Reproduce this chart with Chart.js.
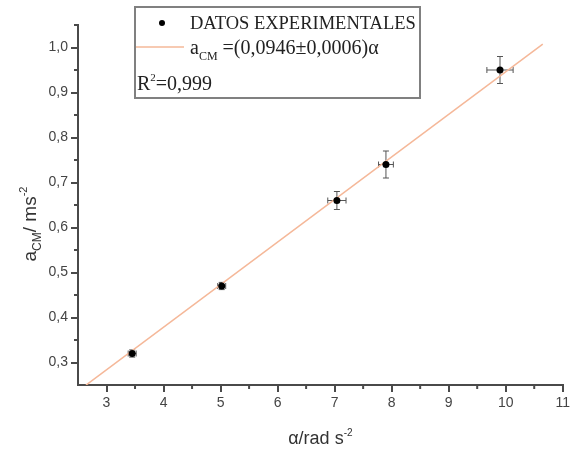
<!DOCTYPE html>
<html lang="es">
<head>
<meta charset="UTF-8">
<title>Aceleración del centro de masas frente a aceleración angular</title>
<style>
  html, body { margin: 0; padding: 0; background: #fff; }
  #wrap { width: 573px; height: 450px; }
</style>
</head>
<body>
<div id="wrap"><canvas id="grafico" width="573" height="450"></canvas></div>
<script src="https://cdn.jsdelivr.net/npm/chart.js"></script>
<script>
// Datos experimentales: aceleración angular (rad/s²) y aceleración del CM (m/s²)
const alpha    = [3.45, 5.02, 7.04, 7.90, 9.90];
const aCM      = [0.32, 0.47, 0.66, 0.74, 0.95];
const alphaErr = [0.07, 0.07, 0.16, 0.13, 0.23];
const aCMErr   = [0.008, 0.008, 0.02, 0.03, 0.03];

// Recta de ajuste a = m·alpha
const pendiente = 0.0946;
const rangoAjuste = [2.64, 10.65];

// Marcas de los ejes
const xTicks = [3, 4, 5, 6, 7, 8, 9, 10, 11];
const yTicks = [0.3, 0.4, 0.5, 0.6, 0.7, 0.8, 0.9, 1.0];
const xMinor = [3.5, 4.5, 5.5, 6.5, 7.5, 8.5, 9.5, 10.5];
const yMinor = [0.35, 0.45, 0.55, 0.65, 0.75, 0.85, 0.95, 1.05];

const EJE = '#4a4a4a';
const SANS = '"Liberation Sans", Arial, sans-serif';
const SERIF = '"Liberation Serif", "Times New Roman", serif';

// texto con partes en sub/superíndice: [texto, tamaño, desplazamiento vertical, fuente]
function textoCompuesto(ctx, partes, x, y, centrado) {
  let ancho = 0;
  partes.forEach(p => { ctx.font = p[1] + 'px ' + p[3]; ancho += ctx.measureText(p[0]).width; });
  let cx = centrado ? x - ancho / 2 : x;
  partes.forEach(p => {
    ctx.font = p[1] + 'px ' + p[3];
    ctx.fillText(p[0], cx, y + p[2]);
    cx += ctx.measureText(p[0]).width;
  });
}

const decorado = {
  id: 'decorado',
  beforeDatasetsDraw(chart) {
    const ctx = chart.ctx, sx = chart.scales.x, sy = chart.scales.y;
    ctx.save();
    ctx.strokeStyle = '#555';
    ctx.lineWidth = 1;
    alpha.forEach((v, i) => {
      const px = sx.getPixelForValue(v), py = sy.getPixelForValue(aCM[i]);
      const x0 = sx.getPixelForValue(v - alphaErr[i]), x1 = sx.getPixelForValue(v + alphaErr[i]);
      const y0 = sy.getPixelForValue(aCM[i] - aCMErr[i]), y1 = sy.getPixelForValue(aCM[i] + aCMErr[i]);
      ctx.beginPath();
      ctx.moveTo(x0, py); ctx.lineTo(x1, py);
      ctx.moveTo(px, y0); ctx.lineTo(px, y1);
      ctx.moveTo(x0, py - 3); ctx.lineTo(x0, py + 3);
      ctx.moveTo(x1, py - 3); ctx.lineTo(x1, py + 3);
      ctx.moveTo(px - 3, y0); ctx.lineTo(px + 3, y0);
      ctx.moveTo(px - 3, y1); ctx.lineTo(px + 3, y1);
      ctx.stroke();
    });
    ctx.restore();
  },
  afterDraw(chart) {
    const ctx = chart.ctx, sx = chart.scales.x, sy = chart.scales.y;
    const area = chart.chartArea;
    ctx.save();

    // marcas secundarias
    ctx.strokeStyle = EJE;
    ctx.lineWidth = 2;
    ctx.beginPath();
    xMinor.forEach(v => {
      const px = sx.getPixelForValue(v);
      ctx.moveTo(px, area.bottom); ctx.lineTo(px, area.bottom + 4);
    });
    yMinor.forEach(v => {
      const py = sy.getPixelForValue(v);
      ctx.moveTo(area.left, py); ctx.lineTo(area.left - 4, py);
    });
    ctx.stroke();

    // títulos de los ejes
    ctx.fillStyle = '#333';
    ctx.textBaseline = 'alphabetic';
    textoCompuesto(ctx, [
      ['α/rad s', 18, 0, SANS],
      ['-2', 10, -8, SANS]
    ], (area.left + area.right) / 2, 444, true);

    ctx.save();
    ctx.translate(36, 224);
    ctx.rotate(-Math.PI / 2);
    textoCompuesto(ctx, [
      ['a', 19, 0, SANS],
      ['CM', 12, 5, SANS],
      ['/ ms', 19, 0, SANS],
      ['-2', 11, -9, SANS]
    ], 0, 0, true);
    ctx.restore();

    // leyenda
    ctx.strokeStyle = '#808080';
    ctx.lineWidth = 2;
    ctx.strokeRect(135, 7, 285, 91);

    ctx.fillStyle = '#000';
    ctx.beginPath();
    ctx.arc(162, 23, 3, 0, Math.PI * 2);
    ctx.fill();

    ctx.strokeStyle = '#f5b899';
    ctx.lineWidth = 1.5;
    ctx.beginPath();
    ctx.moveTo(136, 47); ctx.lineTo(184, 47);
    ctx.stroke();

    ctx.fillStyle = '#222';
    textoCompuesto(ctx, [['DATOS EXPERIMENTALES', 18.5, 0, SERIF]], 190, 29, false);
    textoCompuesto(ctx, [
      ['a', 20, 0, SERIF],
      ['CM', 12, 6, SERIF],
      [' =(0,0946±0,0006)α', 20, 0, SERIF]
    ], 190, 54, false);
    textoCompuesto(ctx, [
      ['R', 20, 0, SERIF],
      ['2', 11, -9, SERIF],
      ['=0,999', 20, 0, SERIF]
    ], 137, 90, false);

    ctx.restore();
  }
};

new Chart(document.getElementById('grafico'), {
  type: 'scatter',
  data: {
    datasets: [
      {
        label: 'DATOS EXPERIMENTALES',
        data: alpha.map((v, i) => ({ x: v, y: aCM[i] })),
        pointRadius: 3.5,
        pointBackgroundColor: '#000',
        pointBorderColor: '#000',
        pointBorderWidth: 0
      },
      {
        label: 'ajuste',
        data: rangoAjuste.map(v => ({ x: v, y: pendiente * v })),
        showLine: true,
        borderColor: '#f5b899',
        borderWidth: 1.5,
        pointRadius: 0
      }
    ]
  },
  options: {
    responsive: false,
    animation: false,
    layout: { padding: { top: 25, right: 6, left: 0, bottom: 0 } },
    plugins: { legend: { display: false }, tooltip: { enabled: false } },
    scales: {
      x: {
        type: 'linear',
        min: 2.5,
        max: 11,
        afterBuildTicks: s => { s.ticks = xTicks.map(v => ({ value: v })); },
        afterFit: s => { s.height = 65; },
        grid: { drawOnChartArea: false, tickLength: 7, color: EJE, lineWidth: 2 },
        border: { color: EJE, width: 2 },
        ticks: {
          padding: 3,
          color: '#444',
          font: { family: SANS, size: 14 },
          callback: v => String(v)
        }
      },
      y: {
        type: 'linear',
        min: 0.25,
        max: 1.05,
        afterBuildTicks: s => { s.ticks = yTicks.map(v => ({ value: v })); },
        afterFit: s => { s.width = 78; },
        grid: { drawOnChartArea: false, tickLength: 7, color: EJE, lineWidth: 2 },
        border: { color: EJE, width: 2 },
        ticks: {
          padding: 3,
          color: '#444',
          font: { family: SANS, size: 14 },
          callback: v => v.toFixed(1).replace('.', ',')
        }
      }
    }
  },
  plugins: [decorado]
});
</script>
</body>
</html>
